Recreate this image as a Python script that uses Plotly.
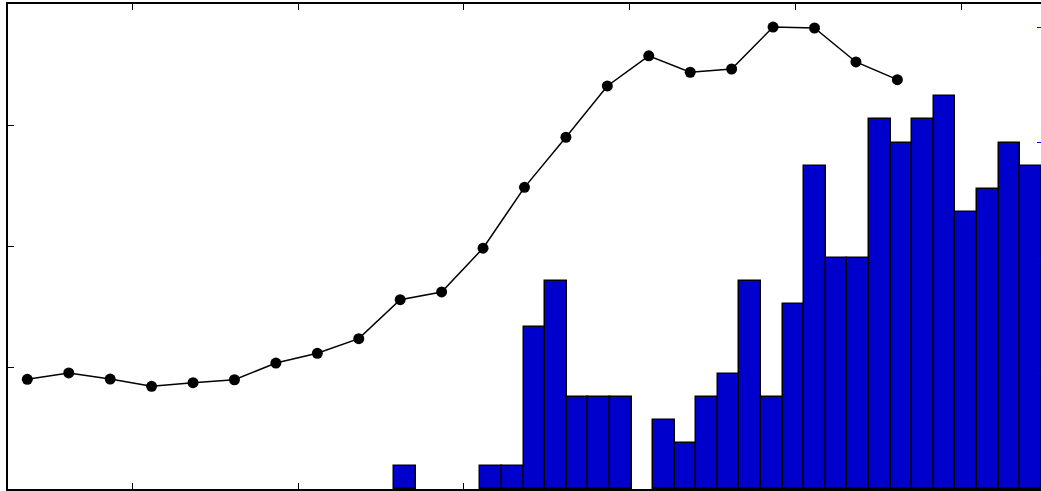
import plotly.graph_objects as go

# Line series (left axis), one point per year
line_years = list(range(1990, 2012))
line_values = [9.05, 9.57, 9.07, 8.47, 8.77, 9.01, 10.39, 11.19, 12.40, 15.61, 16.25,
               19.86, 24.88, 29.01, 33.24, 35.73, 34.37, 34.64, 38.10, 38.02, 35.22, 33.76]

# Histogram-like counts (right axis), one bar per bin
bar_bins = list(range(0, 30))
bar_counts = [1, 0, 0, 0, 1, 1, 7, 9, 4, 4, 4, 0, 3, 2, 4, 5, 9, 4, 8,
              14, 10, 10, 16, 15, 16, 17, 12, 13, 15, 14]

# Axis settings
x_line_range = [1989.534, 2014.467]
x_line_ticks = [1992.54, 1996.54, 2000.54, 2004.54, 2008.54, 2012.54]
x_bar_range = [-18.379, 29.467]
y_left_range = [0, 40]
y_left_ticks = [0, 10, 20, 30, 40]
y_right_range = [0, 21]
y_right_ticks = [0, 5, 10, 15, 20]

# empty bins draw nothing
nz = [(b, c) for b, c in zip(bar_bins, bar_counts) if c > 0]

fig = go.Figure()
fig.add_trace(go.Bar(
    x=[b for b, _ in nz], y=[c for _, c in nz], xaxis="x2", yaxis="y2", width=1,
    marker=dict(color="#0000CC", line=dict(color="black", width=1.5)),
    showlegend=False, hoverinfo="skip",
))
fig.add_trace(go.Scatter(
    x=line_years, y=line_values, xaxis="x", yaxis="y", mode="lines+markers",
    line=dict(color="black", width=1.5),
    marker=dict(color="black", size=11),
    showlegend=False, hoverinfo="skip",
))

fig.update_layout(
    width=1041, height=491,
    margin=dict(l=8, r=0, t=4, b=2),
    paper_bgcolor="white", plot_bgcolor="white",
    bargap=0,
    xaxis=dict(range=x_line_range, tickvals=x_line_ticks, showticklabels=False,
               ticks="inside", ticklen=6, tickcolor="black", showline=True,
               linecolor="black", linewidth=1.5, mirror="ticks", showgrid=False,
               zeroline=False),
    xaxis2=dict(range=x_bar_range, overlaying="x", visible=False),
    yaxis=dict(range=y_left_range, tickvals=y_left_ticks, showticklabels=False,
               ticks="inside", ticklen=6, tickcolor="black", showline=True,
               linecolor="black", linewidth=1.5, showgrid=False, zeroline=False),
    yaxis2=dict(range=y_right_range, tickvals=y_right_ticks, showticklabels=False,
                overlaying="y", side="right", ticks="inside", ticklen=4,
                tickcolor="blue", showline=False, showgrid=False, zeroline=False),
)

fig.write_html("out.html", config={"displayModeBar": False},
               post_script="document.body.style.margin='0';document.body.style.overflow='hidden';")
